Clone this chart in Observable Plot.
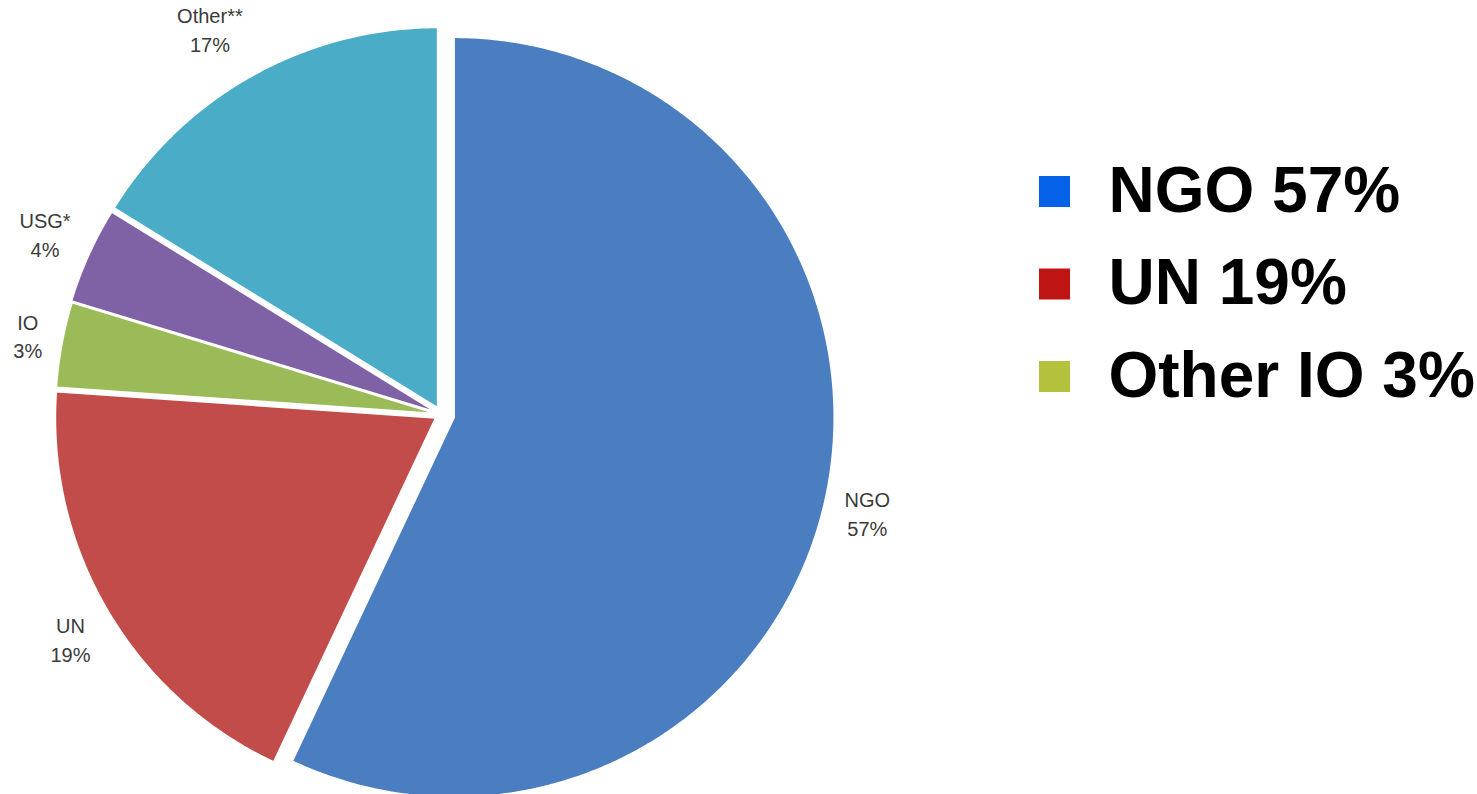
<!DOCTYPE html>
<html>
<head>
<meta charset="utf-8">
<script src="https://cdn.jsdelivr.net/npm/d3@7"></script>
<script src="https://cdn.jsdelivr.net/npm/@observablehq/plot@0.6"></script>
<style>
  html, body { margin: 0; padding: 0; background: #ffffff; }
  #chart { width: 1477px; height: 794px; overflow: hidden; }
</style>
</head>
<body>
<div id="chart"></div>
<script>
// ---- data ----
const names = ["NGO", "UN", "IO", "USG*", "Other**"];
// slice sizes as drawn in the picture (percent)
const values = [57.0, 19.1, 3.6, 4.1, 16.2];
// percentages printed on the slice labels
const percentLabels = ["57%", "19%", "3%", "4%", "17%"];
const sliceColors = ["#4a7ec1", "#c24c49", "#9bbb59", "#7f62a6", "#4aacc6"];
const legendLabels = ["NGO 57%", "UN 19%", "Other IO 3%"];
const legendColors = ["#0561e8", "#c01515", "#b3c13d"];

// ---- layout / style ----
const W = 1477, H = 794;
const cx = 441, cy = 414, R = 380, labelGapX = 20, labelGapY = 30;
const labelFont = "Liberation Sans, Arial, sans-serif";
const labelSize = 20, labelBlockH = 44;
const explode = {"NGO": 13, "UN": 7, "IO": 6, "USG*": 7, "Other**": 8};
const legendX = 1054, legendTextX = 1108, legendY0 = 191, legendStep = 92.5;

const ctx = document.createElement("canvas").getContext("2d");
ctx.font = `${labelSize}px ${labelFont}`;
const textW = (s) => Math.max(...s.split("\n").map(l => ctx.measureText(l).width));
const clamp = (v) => Math.max(-1, Math.min(1, v));

const rows = names.map((name, i) => ({name, value: values[i], pct: percentLabels[i]}));
const arcs = d3.pie().sort(null).value(d => d.value)(rows);

const polyPts = [];
const labelPts = [];
arcs.forEach(a => {
  const name = a.data.name;
  const mid = (a.startAngle + a.endAngle) / 2;
  const off = explode[name];
  const ox = cx + off * Math.sin(mid), oy = cy - off * Math.cos(mid);
  polyPts.push({name, x: ox, y: oy});
  const n = Math.max(2, Math.ceil((a.endAngle - a.startAngle) / (Math.PI / 360)));
  for (let i = 0; i <= n; i++) {
    const t = a.startAngle + (a.endAngle - a.startAngle) * i / n;
    polyPts.push({name, x: ox + R * Math.sin(t), y: oy - R * Math.cos(t)});
  }
  const text = name + "\n" + a.data.pct;
  const w = textW(text);
  const ax = ox + (R + labelGapX) * Math.sin(mid);
  const ay = oy - (R + labelGapY) * Math.cos(mid);
  labelPts.push({
    text,
    x: ax + (w / 2) * clamp(2.5 * Math.sin(mid)),
    y: ay + (labelBlockH / 2) * clamp(-1.1 * Math.cos(mid))
  });
});

const legendRows = legendLabels.map((label, i) => ({
  label, x: legendX, tx: legendTextX, y: legendY0 + i * legendStep
}));

const chart = Plot.plot({
  width: W,
  height: H,
  margin: 0,
  style: {background: "#ffffff"},
  x: {domain: [0, W], range: [0, W], axis: null},
  y: {domain: [0, H], range: [0, H], axis: null},
  color: {domain: [...names, ...legendLabels], range: [...sliceColors, ...legendColors]},
  marks: [
    Plot.line(polyPts, {
      x: "x", y: "y", z: "name", fill: "name",
      stroke: "#ffffff", strokeWidth: 1.5, curve: "linear-closed"
    }),
    Plot.text(labelPts, {
      x: "x", y: "y", text: "text",
      fontFamily: labelFont,
      fontSize: labelSize, lineHeight: 1.45, fill: "#3a3a3a",
      textAnchor: "middle", lineAnchor: "middle"
    }),
    Plot.dot(legendRows, {
      x: "x", y: "y", fill: "label", symbol: "square", r: 17.5, stroke: null
    }),
    Plot.text(legendRows, {
      x: "tx", y: "y", text: "label",
      fontFamily: labelFont,
      fontSize: 64, fontWeight: "bold", fill: "#000000",
      textAnchor: "start", lineAnchor: "middle"
    })
  ]
});
document.getElementById("chart").appendChild(chart);
</script>
</body>
</html>
